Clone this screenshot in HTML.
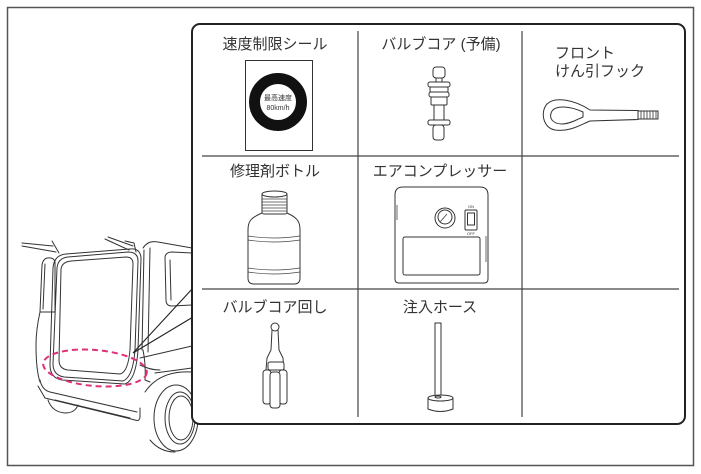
<!DOCTYPE html>
<html><head><meta charset="utf-8"><style>
html,body{margin:0;padding:0;background:#fff;}
svg{display:block;}
text{font-family:"Liberation Sans","Noto Sans CJK JP",sans-serif;fill:#333;}
</style></head><body>
<svg width="701" height="474" viewBox="0 0 701 474" xmlns="http://www.w3.org/2000/svg">
<rect x="7.5" y="7.5" width="686" height="458" fill="#fff" stroke="#555" stroke-width="1.5"/>

<!-- car -->
<g fill="none" stroke="#333" stroke-width="1" stroke-linejoin="round" stroke-linecap="round">
  <path d="M22 243 L53 246 M22 246 L56 252 M52 241 L59 253"/>
  <path d="M105 239 L129 250 M108 237 L133 246 M125 241 L134 243 L136 252"/>
  <path d="M53 268 Q54 255 66 254 L130 249 Q141 248 141 259 L138 350 Q136 380 125 384 L62 380 Q50 378 50 365 Z"/>
  <path d="M57 268 Q58 258 68 257 L128 252 Q138 252 138 261 L135 350 Q133 377 123 381 L64 377 Q53 375 53 364 Z"/>
  <path d="M61 269 Q62 262 71 261 L126 257 Q133 257 133 264 L130 350 Q128 372 120 374 L68 370 Q59 369 59 360 Z"/>
  <path d="M47 258 Q43 259 42 265 L40 312 L55 312 L55 262 Q54 257 47 258 Z M45 264 L43 309"/>
  <path d="M40 312 Q36 330 36 345 Q36 370 40 382"/>
  <path d="M40 380 Q42 390 50 392 L137 412 M38 386 L45 398 L135 420 Q140 422 140 416 L140 408 M55 400 L130 418"/>
  <path d="M48 400 Q52 412 65 413 Q75 413 78 405"/>
  <path d="M144 250 L142 350 M150 248 L148 352 M143 248 Q148 240 158 242 L192 248"/>
  <path d="M165 257 Q166 252 172 252 L192 253 M165 257 L166 300 Q166 306 172 306 L192 305 M170 260 L171 300"/>
  <path d="M140 358 L192 346 M140 365 Q150 370 160 370 M155 373 L192 368"/>
  <path d="M143 350 Q146 365 145 380 L150 382"/>
  <path d="M145 392 Q160 370 192 372"/>
  <ellipse cx="176" cy="418" rx="22" ry="33"/>
  <ellipse cx="180" cy="418" rx="15" ry="26"/>
  <ellipse cx="181" cy="418" rx="12" ry="22"/>
  <path d="M150 440 Q160 452 175 452"/>
</g>
<ellipse cx="95" cy="368" rx="52" ry="18" transform="rotate(5 95 368)" fill="none" stroke="#e0307a" stroke-width="2" stroke-dasharray="6 4"/>
<path d="M133 353 L193 288 M133 353 L193 317" stroke="#222" stroke-width="1.1" fill="none"/>

<!-- main box -->
<rect x="192" y="24" width="493" height="400" rx="8" fill="#fff" stroke="#222" stroke-width="2"/>
<g stroke="#444" stroke-width="1.2">
  <line x1="358" y1="31" x2="358" y2="417"/>
  <line x1="522" y1="31" x2="522" y2="417"/>
  <line x1="202" y1="156" x2="679" y2="156"/>
  <line x1="202" y1="289" x2="679" y2="289"/>
</g>

<!-- titles -->
<g font-size="15" text-anchor="middle">
  <text x="275" y="49">速度制限シール</text>
  <text x="441" y="49">バルブコア (予備)</text>
  <text x="275" y="176">修理剤ボトル</text>
  <text x="440" y="176">エアコンプレッサー</text>
  <text x="275" y="312">バルブコア回し</text>
  <text x="440" y="312">注入ホース</text>
</g>
<text x="555" y="58" font-size="15">フロント</text>
<text x="555" y="76" font-size="15">けん引フック</text>

<!-- sticker -->
<rect x="245.5" y="60.5" width="67" height="90" fill="#fff" stroke="#333" stroke-width="1"/>
<circle cx="278" cy="102" r="23.5" fill="none" stroke="#111" stroke-width="11"/>
<text x="278" y="100" font-size="7" text-anchor="middle">最高速度</text>
<text x="278" y="110" font-size="7" text-anchor="middle">80km/h</text>

<!-- valve core -->
<g fill="#fff" stroke="#333" stroke-width="1">
  <rect x="436" y="77" width="6" height="8"/>
  <rect x="433" y="67" width="12" height="11" rx="3"/>
  <rect x="428" y="82" width="22" height="5" rx="2"/>
  <rect x="430" y="87" width="18" height="5" rx="1"/>
  <rect x="429" y="92" width="20" height="5" rx="2"/>
  <rect x="431" y="97" width="16" height="8" rx="1"/>
  <rect x="434" y="105" width="10" height="16"/>
  <rect x="428" y="120" width="22" height="5" rx="2"/>
  <rect x="433" y="125" width="11" height="15" rx="3"/>
</g>

<!-- tow hook -->
<g fill="#fff" stroke="#333" stroke-width="1">
  <path d="M590 110 C575 100 555 96 547 104 C540 112 543 128 555 130 C570 132 580 125 590 121 L638 119.5 L638 110.5 Z"/>
  <path d="M583 112 C570 106 556 105 552 111 C548 118 553 124 562 124 C570 124 578 119 583 117 Z"/>
  <rect x="638" y="111" width="20" height="8"/>
</g>
<g stroke="#333" stroke-width="0.8">
  <line x1="641" y1="111" x2="641" y2="119"/><line x1="644" y1="111" x2="644" y2="119"/>
  <line x1="647" y1="111" x2="647" y2="119"/><line x1="650" y1="111" x2="650" y2="119"/>
  <line x1="653" y1="111" x2="653" y2="119"/><line x1="656" y1="111" x2="656" y2="119"/>
</g>

<!-- bottle -->
<g fill="#fff" stroke="#333" stroke-width="1">
  <path d="M262 213 C250 218 248 222 248 230 L248 278 Q248 284 254 284 L294 284 Q300 284 300 278 L300 230 C300 222 298 218 287 213 Z"/>
  <rect x="262" y="193" width="25" height="21" rx="2"/>
  <ellipse cx="274.5" cy="194" rx="12.5" ry="3"/>
</g>
<g stroke="#444" stroke-width="0.7" fill="none">
  <path d="M262 199 H287 M262 202 H287 M262 205 H287 M262 208 H287 M262 211 H287"/>
  <path d="M248 236 Q274 240 300 236 M248 240 Q274 244 300 240"/>
  <path d="M248 268 Q274 272 300 268 M248 272 Q274 276 300 272"/>
</g>

<!-- compressor -->
<g fill="#fff" stroke="#333" stroke-width="1">
  <path d="M403 187 L480 187 Q488 187 488 195 L488 279 Q488 283 484 283 L399 283 Q395 283 395 279 L395 195 Q395 187 403 187 Z"/>
  <circle cx="445" cy="218" r="10"/>
  <circle cx="445" cy="217" r="7"/>
  <rect x="465" y="210" width="12" height="20" rx="1"/>
  <rect x="467.5" y="213" width="7" height="12"/>
  <rect x="403" y="237" width="77" height="38" rx="2"/>
</g>
<g stroke="#444" stroke-width="0.8" fill="none">
  <path d="M440 222 L447 214"/>
  <path d="M397 205 V220 M486 236 V262"/>
</g>
<text x="471" y="208" font-size="4" text-anchor="middle">ON</text>
<text x="471" y="235" font-size="4" text-anchor="middle">OFF</text>

<!-- valve core tool -->
<g fill="#fff" stroke="#333" stroke-width="1">
  <path d="M272 330 L278 330 L279 350 L283 358 L284 370 L266 370 L267 358 L271 350 Z"/>
  <circle cx="275" cy="327" r="4"/>
  <rect x="268" y="362" width="16" height="8" rx="2"/>
  <rect x="263" y="370" width="8" height="34" rx="3"/>
  <rect x="279" y="370" width="8" height="34" rx="3"/>
  <rect x="270" y="372" width="10" height="36" rx="3"/>
</g>

<!-- hose -->
<g fill="#fff" stroke="#333" stroke-width="1">
  <rect x="435" y="323" width="6" height="74"/>
  <path d="M428 398 L428 409 Q440.5 414 453 409 L453 398 Z"/>
  <ellipse cx="440.5" cy="398" rx="12.5" ry="3"/>
  <ellipse cx="438" cy="397" rx="3" ry="1"/>
</g>
</svg>
</body></html>
